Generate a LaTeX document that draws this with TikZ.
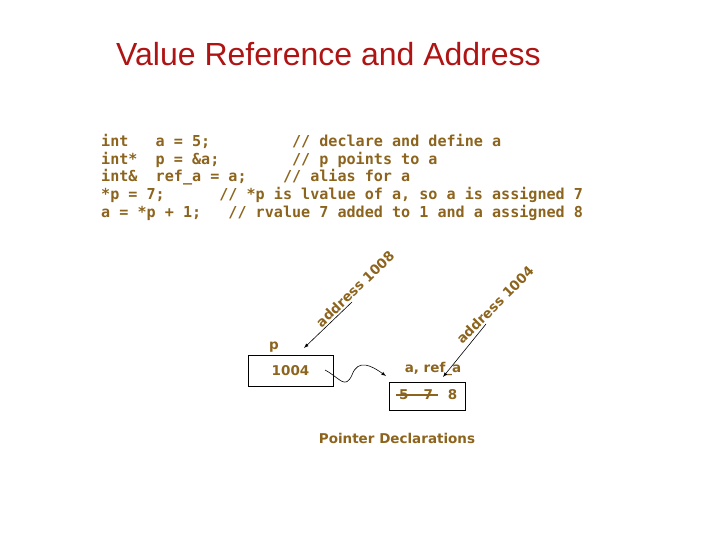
\documentclass[tikz,border=0pt]{standalone}
\usepackage{fontspec}
\setmainfont{Liberation Sans}
\newfontfamily\codefont{DejaVu Sans Mono}
\newfontfamily\lbl{DejaVu Sans}
\begin{document}
\begin{tikzpicture}[x=1pt,y=-1pt,
  brn/.style={text=brown},
  code/.style={brn,font=\codefont\bfseries\fontsize{15.1}{17}\selectfont,anchor=base west,inner sep=0},
  lab/.style={brn,font=\lbl\bfseries\fontsize{13.5}{15}\selectfont,inner sep=0},
  box/.style={draw,line width=0.8pt}]
\definecolor{brown}{RGB}{140,100,30}
\useasboundingbox (0,0) rectangle (720,540);
\node[anchor=west,text={rgb,255:red,175;green,20;blue,20},font=\fontsize{32}{36}\selectfont,inner sep=0] (title) at (116,54) {Value Reference and Address};
\node[code] (c1) at (101,147) {int\ \ \ a = 5;\ \ \ \ \ \ \ \ \ // declare and define a};
\node[code] (c2) at (101,165) {int*\ \ p = \&a;\ \ \ \ \ \ \ \ // p points to a};
\node[code] (c3) at (101,182) {int\&\ \ ref\_a = a;\ \ \ \ // alias for a};
\node[code] (c4) at (101,200) {*p = 7;\ \ \ \ \ \ // *p is lvalue of a, so a is assigned 7};
\node[code] (c5) at (101,218) {a = *p + 1;\ \ \ // rvalue 7 added to 1 and a assigned 8};
\node[box,minimum width=85,minimum height=31] (pb) at (290.5,370.5) {};
\node[lab] at (pb) {1004};
\node[box,minimum width=76,minimum height=28] (ab) at (427,396) {};
\node[lab,anchor=west] (nums) at (399,395) {5\hspace{15pt}7\hspace{15pt}8};
\draw[brown,line width=1.5pt] (396,395) -- (438,395);
\node[lab] (plab) at (274,347) {p};
\node[lab] (alab) at (433,369) {a, ref\_a};
\node[lab] (cap) at (397,438) {Pointer Declarations};
\coordinate (s1) at (352,302);
\coordinate (e1) at (304,348);
\coordinate (s2) at (486,324);
\coordinate (e2) at (443,377);
\draw[-latex,semithick] (s1) -- (e1);
\draw[-latex,semithick] (s2) -- (e2);
\node[lab,rotate=44] at (355,289) {address 1008};
\node[lab,rotate=45] at (495,305) {address 1004};
\draw[-latex,semithick] (325,370) .. controls (340,378) and (345,390) .. (352,375) .. controls (358,358) and (372,366) .. (386,376);
\end{tikzpicture}
\end{document}
